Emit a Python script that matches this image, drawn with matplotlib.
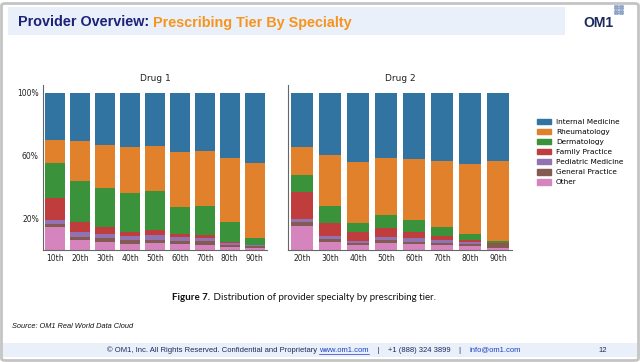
import matplotlib.pyplot as plt
import matplotlib.patches as mpatches
import numpy as np

# ---- data (percent of providers per tier) ----
specialties = ['Internal Medicine', 'Rheumatology', 'Dermatology', 'Family Practice',
               'Pediatric Medicine', 'General Practice', 'Other']
colors = ['#3274a1', '#e1812c', '#3a923a', '#c03d3e', '#9372b2', '#845b53', '#d684bd']

tiers1 = ['10th', '20th', '30th', '40th', '50th', '60th', '70th', '80th', '90th']
drug1 = {
    'Internal Medicine':  [30.0, 30.6, 33.0, 34.3, 33.6, 37.9, 37.0, 41.7, 44.7],
    'Rheumatology':       [14.9, 25.4, 27.4, 29.5, 29.0, 34.7, 34.7, 40.6, 47.4],
    'Dermatology':        [21.7, 26.1, 24.9, 24.5, 24.8, 17.0, 18.7, 12.8, 4.5],
    'Family Practice':    [14.3, 6.4, 4.3, 2.6, 3.2, 2.1, 1.9, 0.4, 0.4],
    'Pediatric Medicine': [2.3, 3.4, 2.7, 2.7, 3.0, 2.8, 2.2, 1.1, 0.2],
    'General Practice':   [1.9, 1.9, 2.4, 2.4, 1.7, 1.7, 2.1, 1.3, 1.3],
    'Other':              [14.9, 6.2, 5.3, 4.0, 4.7, 3.8, 3.4, 2.1, 1.5],
}

tiers2 = ['20th', '30th', '40th', '50th', '60th', '70th', '80th', '90th']
drug2 = {
    'Internal Medicine':  [34.5, 39.6, 43.8, 41.3, 41.9, 43.2, 45.1, 43.2],
    'Rheumatology':       [17.6, 32.5, 39.2, 36.4, 39.0, 42.1, 44.5, 51.1],
    'Dermatology':        [11.3, 10.9, 5.5, 8.3, 7.4, 5.6, 4.2, 1.2],
    'Family Practice':    [16.6, 7.9, 5.8, 5.9, 3.8, 2.7, 1.3, 0.5],
    'Pediatric Medicine': [2.1, 2.3, 1.2, 1.7, 2.6, 2.1, 0.9, 0.2],
    'General Practice':   [2.6, 1.7, 1.3, 1.7, 1.5, 1.3, 1.4, 2.3],
    'Other':              [15.3, 5.1, 3.2, 4.7, 3.8, 3.0, 2.6, 1.5],
}

W, H = 640, 362
fig = plt.figure(figsize=(6.4, 3.62), dpi=100)
fig.patch.set_facecolor('white')

def fx(px):
    return px / W

def fy(py):
    return 1 - py / H

# outer frame
fig.patches.append(mpatches.FancyBboxPatch((fx(1.5), fy(360.5)), fx(637), 357 / H,
                                           boxstyle='round,pad=0,rounding_size=0.006',
                                           transform=fig.transFigure, fill=False,
                                           edgecolor='#c4c4c4', linewidth=2))
# header band
fig.patches.append(mpatches.Rectangle((fx(8), fy(35)), fx(557), 28 / H,
                                      transform=fig.transFigure, facecolor='#eaf0f9',
                                      edgecolor='none'))
# footer band
fig.patches.append(mpatches.Rectangle((fx(3), fy(357)), fx(634), 14 / H,
                                      transform=fig.transFigure, facecolor='#eaf0f9',
                                      edgecolor='none'))

renderer = fig.canvas.get_renderer()

def text_run(x_px, y_px, pieces, ha='left', **common):
    # draw consecutive text pieces with different styles on one line
    arts = []
    x = fx(x_px)
    for s, kw in pieces:
        opts = dict(common)
        opts.update(kw)
        t = fig.text(x, fy(y_px), s, va='center', ha='left', **opts)
        bb = t.get_window_extent(renderer)
        x += bb.width / W
        arts.append(t)
    if ha == 'center':
        total = x - fx(x_px)
        for t in arts:
            t.set_x(t.get_position()[0] - total / 2)
    return arts

text_run(18, 22.5, [('Provider Overview: ', dict(color='#1b2378')),
                    ('Prescribing Tier By Specialty', dict(color='#f7941d'))],
         fontsize=10.4, fontweight='bold', family='Liberation Sans')

fig.text(fx(598), fy(23), 'OM1', fontsize=10, fontweight='bold', color='#1b2a5c',
         ha='center', va='center', family='Liberation Sans')
gx, gy = np.meshgrid(np.arange(4), np.arange(4))
fig.add_artist(plt.Line2D(fx(615 + gx.ravel() * 2.4), fy(6 + gy.ravel() * 2.4),
                          transform=fig.transFigure, linestyle='none', marker='o',
                          markersize=1.1, color='#8fa4c8'))


def stacked(ax, tiers, data, title):
    x = np.arange(len(tiers))
    bottom = np.zeros(len(tiers))
    for name, col in zip(reversed(specialties), reversed(colors)):
        vals = np.array(data[name])
        ax.bar(x, vals, 0.8, bottom=bottom, color=col, linewidth=0, label=name)
        bottom += vals
    ax.set_xlim(-0.5, len(tiers) - 0.5)
    ax.set_ylim(0, 105)
    ax.set_xticks(x)
    ax.set_xticklabels(tiers, fontsize=5.5, color='#222222')
    ax.set_yticks([20, 60, 100])
    ax.set_yticklabels(['20%', '60%', '100%'], fontsize=5.5, color='#222222')
    ax.tick_params(length=0, pad=3)
    for s in ['top', 'right']:
        ax.spines[s].set_visible(False)
    for s in ['left', 'bottom']:
        ax.spines[s].set_color('#666666')
        ax.spines[s].set_linewidth(0.8)
    ax.set_title(title, fontsize=6.5, pad=3, color='#222222')


ax1 = fig.add_axes([fx(43), fy(250), fx(224), 165 / H])
stacked(ax1, tiers1, drug1, 'Drug 1')
ax2 = fig.add_axes([fx(288), fy(250), fx(224), 165 / H])
stacked(ax2, tiers2, drug2, 'Drug 2')
ax2.set_yticklabels([])

handles = [mpatches.Patch(color=c, label=s) for s, c in zip(specialties, colors)]
fig.legend(handles=handles, loc='upper left', bbox_to_anchor=(fx(533), fy(115)),
           frameon=False, fontsize=5.3, handlelength=2.0, handleheight=0.75,
           labelspacing=0.52, handletextpad=0.6, borderpad=0)

text_run(304, 298, [('Figure 7.', dict(fontweight='bold')),
                    (' Distribution of provider specialty by prescribing tier.', dict())],
         ha='center', fontsize=7, color='#111111', family='Lato')

fig.text(fx(12), fy(327), 'Source: OM1 Real World Data Cloud', fontsize=5.3, style='italic',
         color='#111111', ha='left', va='center', family='Liberation Sans')

foot = text_run(314, 350, [
    ('\u00a9 OM1, Inc. All Rights Reserved. Confidential and Proprietary ', dict(color='#1b2a5c')),
    ('www.om1.com', dict(color='#1a3fc4')),
    ('    |    +1 (888) 324 3899    |    ', dict(color='#1b2a5c')),
    ('info@om1.com', dict(color='#1a3fc4')),
], ha='center', fontsize=5.5, family='Liberation Sans')
# underline the web link
bb = foot[1].get_window_extent(renderer)
fig.add_artist(plt.Line2D([bb.x0 / W, bb.x1 / W], [fy(353.8), fy(353.8)],
                          transform=fig.transFigure, color='#1a3fc4', linewidth=0.5))

fig.text(fx(603), fy(350), '12', fontsize=5.5, color='#1b2a5c', ha='center', va='center',
         family='Liberation Sans')

fig.savefig('out.png', dpi=100)
